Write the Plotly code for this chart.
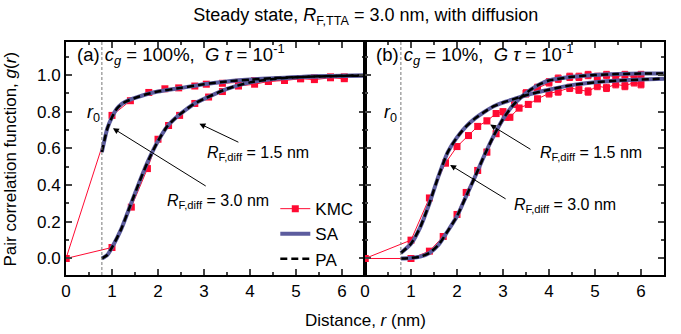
import plotly.graph_objects as go

R0 = 0.78

# ---------- Panel (a): c_g = 100% ----------
a_sa_r = [0.78, 0.85, 0.9, 1.0, 1.1, 1.2, 1.3, 1.5, 1.75, 2.0, 2.5, 3.0, 3.5, 4.0, 4.5, 5.0, 5.5, 6.0, 6.5]
a1_sa_g = [0.58, 0.66, 0.71, 0.77, 0.815, 0.84, 0.855, 0.875, 0.895, 0.91, 0.93, 0.95, 0.965, 0.975, 0.983, 0.988, 0.992, 0.995, 0.997]
a2_sa_r = [0.78, 0.9, 1.0, 1.2, 1.4, 1.6, 1.8, 2.0, 2.2, 2.4, 2.6, 2.8, 3.0, 3.5, 4.0, 4.5, 5.0, 5.5, 6.0, 6.5]
a2_sa_g = [0.0, 0.02, 0.06, 0.16, 0.29, 0.42, 0.54, 0.64, 0.72, 0.77, 0.81, 0.845, 0.87, 0.925, 0.96, 0.978, 0.988, 0.993, 0.996, 0.998]

a1_kmc_r = [0, 1.0, 1.4, 1.8, 2.15, 2.45, 2.8, 3.05, 3.4, 3.75, 4.1, 4.4, 4.75, 5.1, 5.4, 5.75, 6.05]
a1_kmc_g = [0, 0.78, 0.86, 0.905, 0.925, 0.93, 0.94, 0.95, 0.955, 0.96, 0.97, 0.965, 0.975, 0.98, 0.975, 0.985, 0.98]
a2_kmc_r = [0, 1.0, 1.42, 1.77, 2.0, 2.23, 2.47, 2.8, 3.1, 3.4, 3.75, 4.1, 4.4, 4.75, 5.1, 5.4, 5.75, 6.05]
a2_kmc_g = [0, 0.06, 0.28, 0.49, 0.65, 0.725, 0.78, 0.845, 0.88, 0.91, 0.94, 0.95, 0.965, 0.97, 0.98, 0.985, 0.99, 0.99]

# ---------- Panel (b): c_g = 10% ----------
b1_sa_r = [0.78, 1.0, 1.2, 1.4, 1.6, 1.8, 2.0, 2.2, 2.4, 2.6, 2.8, 3.0, 3.25, 3.5, 4.0, 4.5, 5.0, 5.5, 6.0, 6.5]
b1_sa_g = [0.03, 0.08, 0.17, 0.30, 0.45, 0.58, 0.66, 0.72, 0.765, 0.80, 0.83, 0.85, 0.87, 0.89, 0.92, 0.945, 0.96, 0.97, 0.975, 0.98]
b2_sa_r = [0.78, 1.0, 1.2, 1.4, 1.6, 1.8, 2.0, 2.2, 2.4, 2.6, 2.8, 3.0, 3.2, 3.4, 3.6, 3.8, 4.0, 4.5, 5.0, 5.5, 6.0, 6.5]
b2_sa_g = [0.0, 0.003, 0.01, 0.03, 0.075, 0.15, 0.23, 0.34, 0.45, 0.565, 0.67, 0.76, 0.83, 0.88, 0.92, 0.95, 0.97, 0.99, 1.0, 1.005, 1.008, 1.008]

b1_kmc_r = [0, 1.0, 1.4, 1.75, 2.0, 2.25, 2.45, 2.65, 2.85, 3.0, 3.15, 3.35, 3.55, 3.75, 4.0, 4.2, 4.45, 4.65, 4.85, 5.05, 5.25, 5.45, 5.65, 5.85, 6.0]
b1_kmc_g = [0, 0.10, 0.33, 0.52, 0.61, 0.67, 0.72, 0.75, 0.79, 0.80, 0.77, 0.82, 0.84, 0.87, 0.90, 0.91, 0.93, 0.92, 0.91, 0.94, 0.93, 0.95, 0.94, 0.96, 0.95]
b1_kmc_e = [0, 0.01, 0.01, 0.015, 0.015, 0.015, 0.015, 0.015, 0.015, 0.015, 0.015, 0.015, 0.015, 0.015, 0.02, 0.02, 0.02, 0.02, 0.02, 0.02, 0.02, 0.02, 0.02, 0.02, 0.02]
b2_kmc_r = [0, 1.0, 1.4, 1.7, 2.0, 2.2, 2.45, 2.65, 2.85, 3.05, 3.25, 3.5, 3.75, 4.0, 4.2, 4.45, 4.65, 4.85, 5.05, 5.25, 5.45, 5.65, 5.85, 6.0]
b2_kmc_g = [0, 0.0, 0.04, 0.12, 0.24, 0.36, 0.48, 0.58, 0.68, 0.77, 0.84, 0.90, 0.93, 0.96, 0.98, 0.99, 0.99, 1.0, 0.99, 1.0, 0.99, 1.0, 0.99, 1.0]
b2_kmc_e = [0, 0.005, 0.01, 0.01, 0.01, 0.015, 0.015, 0.015, 0.015, 0.015, 0.015, 0.02, 0.02, 0.02, 0.02, 0.02, 0.02, 0.02, 0.02, 0.02, 0.02, 0.02, 0.02, 0.02]

x_ticks = [0, 1, 2, 3, 4, 5, 6]
y_ticks = [0.0, 0.2, 0.4, 0.6, 0.8, 1.0]

RED = "#ff0a32"
SA_C = "#5c5c9e"
FONT = "Liberation Sans, Arial, sans-serif"

fig = go.Figure()


def add_kmc(r, g, xa, ya, show, err=None):
    fig.add_trace(go.Scatter(
        x=r, y=g, xaxis=xa, yaxis=ya, mode="lines+markers", name="KMC",
        line=dict(color=RED, width=1),
        marker=dict(symbol="square", size=7, color=RED),
        error_y=(dict(type="data", array=err, color=RED, thickness=1, width=3) if err else None),
        showlegend=show, legendrank=1))


def add_sa(r, g, xa, ya, show):
    fig.add_trace(go.Scatter(
        x=r, y=g, xaxis=xa, yaxis=ya, mode="lines", name="SA",
        line=dict(color=SA_C, width=4, shape="spline", smoothing=0.6),
        showlegend=show, legendrank=2))


def add_pa(r, g, xa, ya, show):
    fig.add_trace(go.Scatter(
        x=r, y=g, xaxis=xa, yaxis=ya, mode="lines", name="PA",
        line=dict(color="black", width=2.5, dash="7px,4px", shape="spline", smoothing=0.6),
        showlegend=show, legendrank=3))


add_kmc(a1_kmc_r, a1_kmc_g, "x", "y", True)
add_kmc(a2_kmc_r, a2_kmc_g, "x", "y", False)
add_kmc(b1_kmc_r, b1_kmc_g, "x2", "y2", False, b1_kmc_e)
add_kmc(b2_kmc_r, b2_kmc_g, "x2", "y2", False, b2_kmc_e)
add_sa(a_sa_r, a1_sa_g, "x", "y", True)
add_sa(a2_sa_r, a2_sa_g, "x", "y", False)
add_sa(b1_sa_r, b1_sa_g, "x2", "y2", False)
add_sa(b2_sa_r, b2_sa_g, "x2", "y2", False)
add_pa(a_sa_r, a1_sa_g, "x", "y", True)
add_pa(a2_sa_r, a2_sa_g, "x", "y", False)
add_pa(b1_sa_r, b1_sa_g, "x2", "y2", False)
add_pa(b2_sa_r, b2_sa_g, "x2", "y2", False)

tickfont = dict(family=FONT, size=17, color="black")
xcommon = dict(range=[0, 6.5], tickvals=x_ticks, ticks="inside", ticklen=6, tickwidth=1.5,
               showline=True, linecolor="black", linewidth=2, mirror="allticks",
               showgrid=False, zeroline=False, tickfont=tickfont,
               minor=dict(dtick=0.5, tick0=0, ticks="inside", ticklen=3, tickwidth=1.5, showgrid=False))
ycommon = dict(range=[-0.09, 1.18], tickvals=y_ticks, ticks="inside", ticklen=6, tickwidth=1.5,
               showline=True, linecolor="black", linewidth=2, mirror="allticks",
               showgrid=False, zeroline=False, tickfont=tickfont, tickformat=".1f",
               minor=dict(dtick=0.1, tick0=0, ticks="inside", ticklen=3, tickwidth=1.5, showgrid=False))

fig.update_layout(
    width=681, height=334,
    margin=dict(l=66, r=17, t=42, b=59),
    paper_bgcolor="white", plot_bgcolor="white",
    font=dict(family=FONT, size=16, color="black"),
    xaxis=dict(domain=[0, 0.5], anchor="y", **xcommon),
    yaxis=dict(domain=[0, 1], anchor="x", **ycommon),
    xaxis2=dict(domain=[0.5, 1.0], anchor="y2", **xcommon),
    yaxis2=dict(domain=[0, 1], anchor="x2", showticklabels=False, **ycommon),
    showlegend=True,
    legend=dict(x=0.35, y=0.36, xanchor="left", yanchor="top", bgcolor="rgba(0,0,0,0)",
                font=dict(family=FONT, size=17), tracegroupgap=0, itemwidth=30),
    title=dict(text="Steady state, <i>R</i><sub>F,TTA</sub> = 3.0 nm, with diffusion",
               x=0.537, xanchor="center", y=0.955, yanchor="middle",
               font=dict(family=FONT, size=18)),
)

fig.add_annotation(text="Distance, <i>r</i> (nm)", xref="paper", yref="paper",
                   x=0.5, y=-0.195, xanchor="center", yanchor="middle", showarrow=False,
                   font=dict(family=FONT, size=17))
fig.add_annotation(text="Pair correlation function, <i>g</i>(<i>r</i>)", xref="paper", yref="paper",
                   x=-0.092, y=0.5, xanchor="center", yanchor="middle", textangle=-90, showarrow=False,
                   font=dict(family=FONT, size=17))

# r0 dashed lines
for xr in ["x", "x2"]:
    fig.add_shape(type="line", xref=xr, yref=("y domain" if xr == "x" else "y2 domain"),
                  x0=R0, x1=R0, y0=0, y1=1, line=dict(color="#777777", width=1, dash="3px,2px"))


def txt(t, x, y, xr, yr, xanchor="left", size=16):
    fig.add_annotation(text=t, x=x, y=y, xref=xr, yref=yr, xanchor=xanchor, yanchor="middle",
                       showarrow=False, font=dict(family=FONT, size=size, color="black"))


def arrow(x, y, ax, ay, xr, yr):
    fig.add_annotation(text="", x=x, y=y, ax=ax, ay=ay, xref=xr, yref=yr, axref=xr, ayref=yr,
                       showarrow=True, arrowhead=2, arrowsize=1.2, arrowwidth=1, arrowcolor="black")


txt("(a) <i>c<sub>g</sub></i> = 100%,  <i>G τ</i> = 10<sup>-1</sup>", 0.2, 1.11, "x", "y", size=18.5)
txt("<i>r</i><sub>0</sub>", 0.59, 0.79, "x", "y", "center", size=18)
txt("<i>R</i><sub>F,diff</sub> = 1.5 nm", 3.02, 0.57, "x", "y")
txt("<i>R</i><sub>F,diff</sub> = 3.0 nm", 2.15, 0.31, "x", "y")
arrow(2.9, 0.735, 3.78, 0.63, "x", "y")
arrow(1.02, 0.71, 3.07, 0.39, "x", "y")

txt("(b) <i>c<sub>g</sub></i> = 10%,  <i>G τ</i> = 10<sup>-1</sup>", 0.2, 1.11, "x2", "y2", size=18.5)
txt("<i>r</i><sub>0</sub>", 0.55, 0.79, "x2", "y2", "center", size=18)
txt("<i>R</i><sub>F,diff</sub> = 1.5 nm", 3.76, 0.57, "x2", "y2")
txt("<i>R</i><sub>F,diff</sub> = 3.0 nm", 3.2, 0.29, "x2", "y2")
arrow(2.72, 0.73, 3.63, 0.59, "x2", "y2")
arrow(1.85, 0.51, 3.09, 0.32, "x2", "y2")

fig.write_html("out.html")
